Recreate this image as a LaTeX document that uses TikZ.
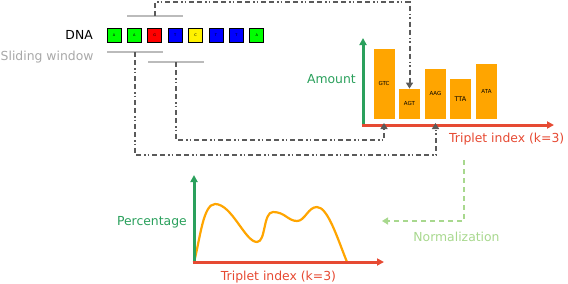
\documentclass[tikz,border=0pt]{standalone}
\usepackage{fontspec}
\setmainfont{DejaVu Sans}
\usetikzlibrary{arrows.meta}
\definecolor{axgreen}{HTML}{2AA05C}
\definecolor{axred}{HTML}{E64A33}
\definecolor{barorange}{HTML}{FFA500}
\definecolor{dgray}{HTML}{5A5A5A}
\definecolor{wgray}{HTML}{BBBBBB}
\definecolor{lgreen}{HTML}{A8D88E}
\tikzset{
  base/.style={x=1pt,y=-1pt},
  lbl/.style={inner sep=0pt,font=\fontsize{12.4}{14}\selectfont},
  nuc/.style={draw=black,line width=0.7pt,minimum size=14pt,inner sep=0pt,font=\fontsize{3.5}{4}\selectfont},
  bar/.style={fill=barorange,minimum width=21pt,inner sep=0pt,anchor=south,font=\fontsize{5.5}{6}\selectfont},
  window/.style={draw=wgray,line width=2pt},
  link/.style={draw=dgray,line width=2pt,dash pattern=on 5pt off 3pt on 5pt off 3pt on 1.5pt off 2pt on 1.5pt off 3pt,-{Triangle[length=6pt,width=7pt]}},
  yaxis/.style={draw=axgreen,line width=3pt,-{Triangle[length=7pt,width=7pt]}},
  xaxis/.style={draw=axred,line width=3pt,-{Triangle[length=7pt,width=7pt]}},
  normarrow/.style={draw=lgreen,line width=2.8pt,dash pattern=on 5pt off 4pt,-{Triangle[length=6pt,width=7pt]}}
}
\begin{document}
\begin{tikzpicture}[base]
\useasboundingbox (0,0) rectangle (568,284);
% DNA
\node[lbl,anchor=east] (dna) at (93,35) {DNA};
\node[lbl,anchor=west,text=wgray!90!black] (sw) at (0.5,57) {Sliding window};
\foreach \i/\c/\l in {0/green/A,1/green/A,2/red/G,3/blue/T,4/yellow/C,5/blue/T,6/blue/T,7/green/A}{
  \node[nuc,fill=\c] (b\i) at ({114+20.4*\i},35) {\l};
}
% window lines
\coordinate (t1a) at (127,16); \coordinate (t1b) at (183,16);
\coordinate (l1a) at (107,52); \coordinate (l1b) at (163,52);
\coordinate (l2a) at (148,62); \coordinate (l2b) at (204,62);
\draw[window] (t1a) -- (t1b);
\draw[window] (l1a) -- (l1b);
\draw[window] (l2a) -- (l2b);
\coordinate (t1) at (155,16);
\coordinate (l1) at (135,52);
\coordinate (l2) at (176,62);
% bar chart
\coordinate (o1) at (363,125);
\coordinate (ytop1) at (363,38);
\coordinate (xend1) at (554,125);
\node[bar,minimum height=70pt] (g1) at (384,119) {GTC};
\node[bar,minimum height=30pt] (g2) at (409.5,119) {AGT};
\node[bar,minimum height=50pt] (g3) at (435.5,119) {AAG};
\node[bar,minimum height=40pt,font=\fontsize{6.5}{7}\selectfont] (g4) at (460.5,119) {TTA};
\node[bar,minimum height=55pt] (g5) at (486.5,119) {ATA};
\draw[yaxis] (o1) -- (ytop1);
\draw[xaxis] ([xshift=-1.5pt]o1) -- (xend1);
\node[lbl,text=axgreen,anchor=east] (amount) at (356,79) {Amount};
\node[lbl,text=axred,anchor=west] (tri1) at (449,139) {Triplet index (k=3)};
% links
\coordinate (ax3) at (435.5,123);
\coordinate (ax1) at (384,123);
\draw[link] (t1) -- (155,2) -- (409.5,2) -- (g2.north);
\draw[link] (l1) -- (135,155) -- (435.5,155) -- (ax3);
\draw[link] (l2) -- (176,140) -- (384,140) -- (ax1);
% normalization
\coordinate (n1) at (464,160);
\coordinate (n2) at (382,221);
\draw[normarrow] (n1) -- (464,221) -- (n2);
\node[lbl,text=lgreen,anchor=center] (norm) at (456.5,237) {Normalization};
% percentage chart
\coordinate (o2) at (194,262);
\coordinate (ytop2) at (194,175);
\coordinate (xend2) at (384,262);
\draw[draw=barorange,line width=2.2pt] (194,262) .. controls (200,240) and (203,204) .. (215,204)
  .. controls (232,204) and (245,242) .. (257,242)
  .. controls (266,242) and (263,212) .. (273,212)
  .. controls (285,212) and (288,221) .. (297,221)
  .. controls (305,221) and (308,207) .. (317,207)
  .. controls (328,207) and (338,240) .. (347,262);
\draw[yaxis] (o2) -- (ytop2);
\draw[xaxis] ([xshift=-1.5pt]o2) -- (xend2);
\node[lbl,text=axgreen,anchor=east] (perc) at (187,222) {Percentage};
\node[lbl,text=axred,anchor=center] (tri2) at (278.5,277) {Triplet index (k=3)};
\end{tikzpicture}
\end{document}
